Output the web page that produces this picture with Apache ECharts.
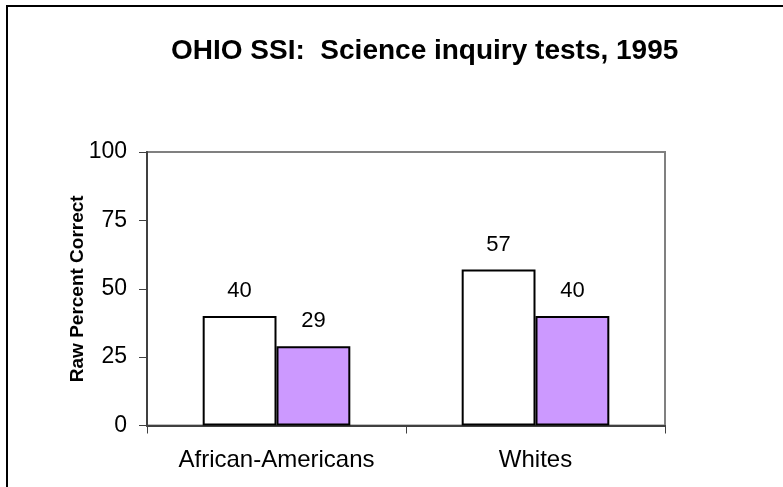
<!DOCTYPE html>
<html>
<head>
<meta charset="utf-8">
<script src="https://cdn.jsdelivr.net/npm/echarts@6/dist/echarts.min.js"></script>
<style>
html,body{margin:0;padding:0;background:#fff;}
#chart{width:783px;height:487px;}
</style>
</head>
<body>
<div id="chart"></div>
<script>
const categories = ["African-Americans", "Whites"];
const seriesA = [40, 57];
const seriesB = [29, 40];
const yTicks = [0, 25, 50, 75, 100];

const chart = echarts.init(document.getElementById('chart'), null, {renderer: 'canvas'});
const FONT = '"Liberation Sans", Arial, sans-serif';
chart.setOption({
  backgroundColor: '#ffffff',
  animation: false,
  title: {
    text: 'OHIO SSI:  Science inquiry tests, 1995',
    left: 166,
    top: 32,
    textStyle: {fontFamily: FONT, fontSize: 28, fontWeight: 'bold', color: '#000'}
  },
  graphic: [{
    type: 'rect',
    shape: {x: 7, y: 6, width: 900, height: 700},
    style: {fill: 'none', stroke: '#000', lineWidth: 2},
    silent: true
  }],
  grid: {
    left: 147, right: 118, top: 152, bottom: 61.5,
    show: true, borderColor: '#808080', borderWidth: 2, backgroundColor: 'transparent'
  },
  xAxis: {
    type: 'category',
    data: categories,
    axisLine: {lineStyle: {color: '#404040', width: 2}},
    axisTick: {show: true, length: 8, lineStyle: {color: '#404040', width: 1}},
    axisLabel: {fontFamily: FONT, fontSize: 24, color: '#000', margin: 23}
  },
  yAxis: {
    type: 'value',
    min: yTicks[0], max: yTicks[yTicks.length - 1], interval: 25,
    name: 'Raw Percent Correct',
    nameLocation: 'middle',
    nameGap: 60,
    nameMoveOverlap: false,
    nameTextStyle: {fontFamily: FONT, fontSize: 19, fontWeight: 'bold', color: '#000'},
    axisLine: {show: true, lineStyle: {color: '#404040', width: 2}},
    axisTick: {show: true, length: 8, lineStyle: {color: '#404040', width: 1}},
    splitLine: {show: false},
    axisLabel: {fontFamily: FONT, fontSize: 23, color: '#000', margin: 20}
  },
  series: [
    {
      type: 'bar', data: seriesA, barGap: '0%', barCategoryGap: '43%',
      itemStyle: {color: '#ffffff', borderColor: '#000', borderWidth: 2},
      label: {show: true, position: 'top', distance: 14, fontFamily: FONT, fontSize: 22, color: '#000'}
    },
    {
      type: 'bar', data: seriesB, barGap: '0%', barCategoryGap: '43%',
      itemStyle: {color: '#cc99ff', borderColor: '#000', borderWidth: 2},
      label: {show: true, position: 'top', distance: 14, fontFamily: FONT, fontSize: 22, color: '#000'}
    }
  ]
});
</script>
</body>
</html>
